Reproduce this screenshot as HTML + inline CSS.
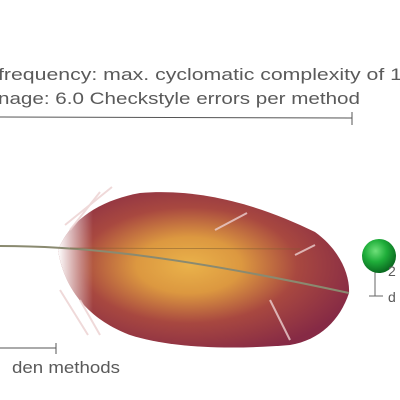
<!DOCTYPE html>
<html><head><meta charset="utf-8"><style>
html,body{margin:0;padding:0;background:#fff;width:400px;height:400px;overflow:hidden}
text{font-family:"Liberation Sans",sans-serif;fill:#5a5a5a}
</style></head><body>
<svg width="400" height="400" viewBox="0 0 400 400">
<defs>
<radialGradient id="vg" cx="0.45" cy="0.47" r="0.6">
<stop offset="0" stop-color="#eab24a"/>
<stop offset="0.3" stop-color="#dc9840"/>
<stop offset="0.62" stop-color="#a84840"/>
<stop offset="1" stop-color="#862a45"/>
</radialGradient>
<linearGradient id="fade" x1="0" x2="1">
<stop offset="0" stop-color="#fff" stop-opacity="1"/>
<stop offset="0.12" stop-color="#fff" stop-opacity="0"/>
</linearGradient>
<radialGradient id="ball" cx="0.4" cy="0.35" r="0.65">
<stop offset="0" stop-color="#6fe07a"/>
<stop offset="0.5" stop-color="#1fae3a"/>
<stop offset="1" stop-color="#0a6a20"/>
</radialGradient>
</defs>
<text x="-2" y="80" font-size="16.5" textLength="404" lengthAdjust="spacingAndGlyphs">frequency: max. cyclomatic complexity of 1</text>
<text x="-2" y="104" font-size="16.5" textLength="362" lengthAdjust="spacingAndGlyphs">nage: 6.0 Checkstyle errors per method</text>
<g>
<line x1="0" y1="117" x2="352" y2="118" stroke="#555" stroke-width="1"/>
<line x1="352" y1="112" x2="352" y2="125" stroke="#555" stroke-width="1"/>
</g>
<g>
<path d="M58,250 C70,220 100,200 140,193 C200,188 260,205 315,232 C340,250 350,275 349,293 C340,320 320,340 290,345 C230,350 170,348 130,335 C95,322 65,295 58,250 Z" fill="url(#vg)"/>
<path d="M58,250 C70,220 100,200 140,193 C200,188 260,205 315,232 C340,250 350,275 349,293 C340,320 320,340 290,345 C230,350 170,348 130,335 C95,322 65,295 58,250 Z" fill="url(#fade)"/>
<g stroke="#ecd0d0" stroke-width="2" opacity="0.8">
<line x1="65" y1="225" x2="112" y2="187"/>
<line x1="70" y1="230" x2="100" y2="192"/>
<line x1="215" y1="230" x2="247" y2="213"/>
<line x1="295" y1="255" x2="315" y2="245"/>
<line x1="270" y1="300" x2="290" y2="340"/>
<line x1="80" y1="300" x2="100" y2="335"/>
<line x1="60" y1="290" x2="88" y2="335"/>
</g>
<path d="M0,246 C60,246 150,250 349,293" fill="none" stroke="#8a8a70" stroke-width="2"/>
<path d="M70,248 L300,249" fill="none" stroke="#7a5a30" stroke-width="0.8" opacity="0.6"/>
</g>
<g>
<line x1="0" y1="348" x2="56" y2="348" stroke="#555"/>
<line x1="56" y1="343" x2="56" y2="354" stroke="#555"/>
</g>
<text x="12" y="373" font-size="16.5" textLength="108" lengthAdjust="spacingAndGlyphs">den methods</text>
<g>
<line x1="375" y1="270" x2="375" y2="296" stroke="#666"/>
<line x1="369" y1="296" x2="383" y2="296" stroke="#666"/>
<circle cx="379" cy="256" r="17" fill="url(#ball)"/>
</g>
<text x="388" y="276" font-size="14">2</text>
<text x="388" y="302" font-size="14">d</text>
</svg>
</body></html>
